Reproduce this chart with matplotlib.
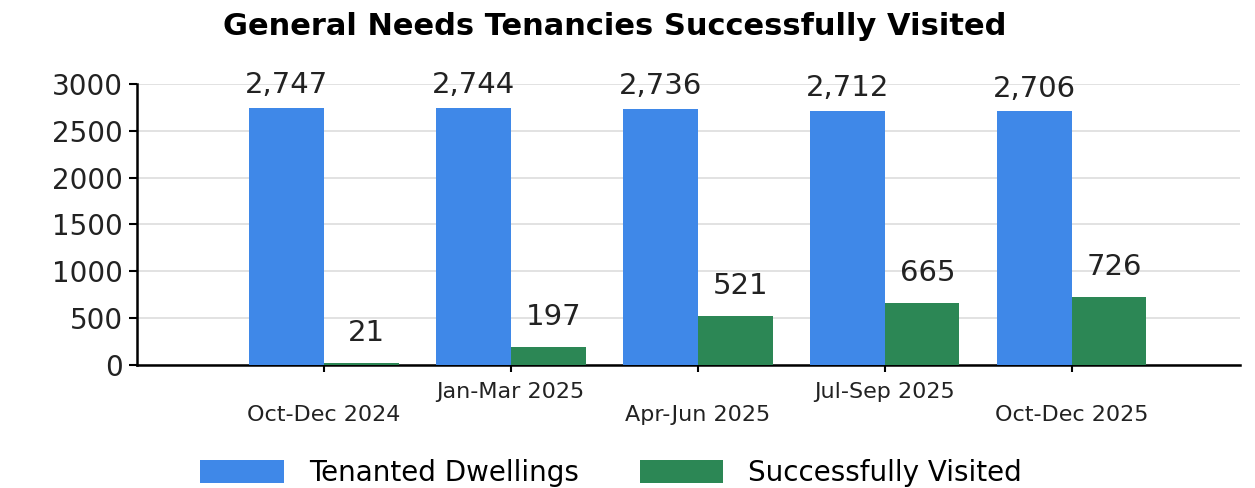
import numpy as np
import matplotlib
matplotlib.use("Agg")
import matplotlib.pyplot as plt

quarters = ["Oct-Dec 2024", "Jan-Mar 2025", "Apr-Jun 2025", "Jul-Sep 2025", "Oct-Dec 2025"]
tenanted = [2747, 2744, 2736, 2712, 2706]
visited = [21, 197, 521, 665, 726]
y_ticks = [0, 500, 1000, 1500, 2000, 2500, 3000]

blue = "#3f88e8"
green = "#2c8755"

plt.rcParams['font.family'] = ['DejaVu Sans']

fig = plt.figure(figsize=(12.55, 4.88), dpi=100)
ax = fig.add_axes([0.109, 0.252, 0.879, 0.576])

x = np.arange(len(quarters))
w = 0.4
b1 = ax.bar(x - w / 2, tenanted, w, color=blue, label="Tenanted Dwellings", zorder=3)
b2 = ax.bar(x + w / 2, visited, w, color=green, label="Successfully Visited", zorder=3)

for rect, v in zip(b1, tenanted):
    ax.text(rect.get_x() + rect.get_width() / 2, v + 90, f"{v:,}", ha="center", va="bottom",
            fontsize=21, color="#222222", clip_on=False)
for rect, v in zip(b2, visited):
    ax.text(rect.get_x() + rect.get_width() / 2 + 0.03, v + 170, f"{v:,}", ha="center", va="bottom",
            fontsize=21, color="#222222", clip_on=False)

ax.set_xlim(-1.0, 4.9)
ax.set_ylim(0, 3000)
ax.set_yticks(y_ticks)
ax.set_yticklabels([str(t) for t in y_ticks], fontsize=20, color="#222222")

# staggered category labels
labels = [("\n" + q) if i % 2 == 0 else q for i, q in enumerate(quarters)]
ax.set_xticks(x)
ax.set_xticklabels(labels, fontsize=16, color="#222222", linespacing=1.2)
ax.tick_params(axis="x", length=5, width=1.5, pad=7)
ax.tick_params(axis="y", length=6, width=1.5, pad=4)

ax.grid(axis="y", color="#dddddd", linewidth=1.2, zorder=0)
for s in ["top", "right"]:
    ax.spines[s].set_visible(False)
ax.spines["left"].set_linewidth(1.8)
ax.spines["bottom"].set_linewidth(1.8)

fig.suptitle("General Needs Tenancies Successfully Visited", fontsize=22, fontweight="bold",
             x=0.49, y=0.975, va="top")

fig.legend(handles=[b1, b2], loc="upper center", bbox_to_anchor=(0.487, 0.1), ncol=2,
           frameon=False, fontsize=20, handlelength=3.0, handleheight=0.9, columnspacing=2.2,
           handletextpad=0.9, borderpad=0.2)

fig.savefig("out.png", dpi=100)
